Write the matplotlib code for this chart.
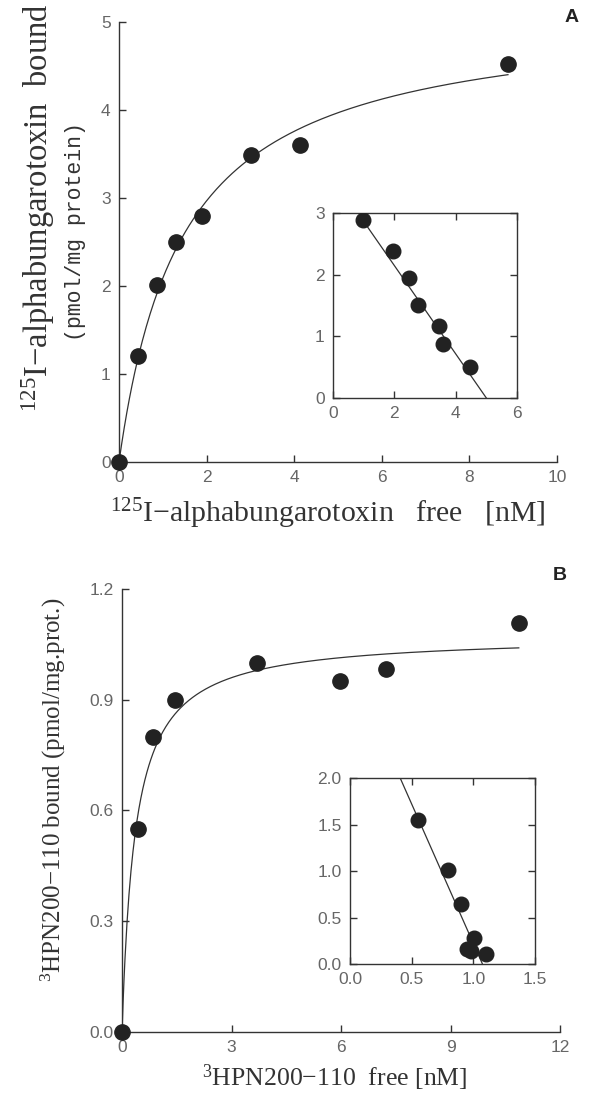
import numpy as np
import matplotlib
matplotlib.use('Agg')
import matplotlib.pyplot as plt

plt.rcParams['font.family'] = ['Liberation Sans', 'DejaVu Sans']
plt.rcParams['mathtext.fontset'] = 'custom'
plt.rcParams['mathtext.rm'] = 'Liberation Serif'
plt.rcParams['mathtext.it'] = 'Liberation Serif'

# panel A - alphabungarotoxin saturation
a_free = [0, 0.44, 0.87, 1.31, 1.89, 3.02, 4.14, 8.88]
a_bound = [0, 1.20, 2.01, 2.50, 2.80, 3.49, 3.60, 4.52]
a_bmax, a_kd = 5.12, 1.45          # fitted hyperbola
a_curve_end = 8.88

# panel A inset - scatchard
a_sc_bound = [0.97, 1.95, 2.48, 2.77, 3.46, 3.58, 4.46]
a_sc_ratio = [2.89, 2.38, 1.94, 1.51, 1.16, 0.88, 0.51]
a_sc_line_x = [0.95, 5.0]
a_sc_line_y = [2.90, 0.0]

# panel B - HPN200-110 saturation
b_free = [0, 0.43, 0.85, 1.46, 3.71, 5.97, 7.24, 10.87]
b_bound = [0, 0.549, 0.798, 0.899, 1.0, 0.951, 0.982, 1.107]
b_bmax, b_kd = 1.075, 0.36
b_curve_end = 10.87

# panel B inset - scatchard
b_sc_bound = [0.551, 0.796, 0.90, 1.004, 0.949, 0.983, 1.102]
b_sc_ratio = [1.547, 1.006, 0.648, 0.282, 0.16, 0.141, 0.11]
b_sc_line_x = [0.407, 1.074]
b_sc_line_y = [2.0, 0.0]

a_xticks = [0, 2, 4, 6, 8, 10]
a_yticks = [0, 1, 2, 3, 4, 5]
a_in_xticks = [0, 2, 4, 6]
a_in_yticks = [0, 1, 2, 3]
b_xticks = [0, 3, 6, 9, 12]
b_yticks = [0.0, 0.3, 0.6, 0.9, 1.2]
b_in_xticks = [0.0, 0.5, 1.0, 1.5]
b_in_yticks = [0.0, 0.5, 1.0, 1.5, 2.0]

dot = '#222222'
tickc = '#666666'
serif = ['Liberation Serif', 'DejaVu Serif']
mono = ['Liberation Mono', 'DejaVu Sans Mono']

fig = plt.figure(figsize=(5.9, 10.94), dpi=100)


def style_main(ax):
    for s in ['top', 'right']:
        ax.spines[s].set_visible(False)
    for s in ['left', 'bottom']:
        ax.spines[s].set_linewidth(1.0)
        ax.spines[s].set_color('#333333')
    ax.tick_params(direction='in', length=5, width=1.0, color='#333333',
                   labelsize=12.5, labelcolor=tickc, pad=6)


def style_inset(ax):
    for s in ax.spines.values():
        s.set_linewidth(1.0)
        s.set_color('#333333')
    ax.tick_params(direction='in', length=5, width=1.0, color='#333333',
                   labelsize=12.5, labelcolor=tickc, top=True, right=True,
                   pad=6)


# ---- panel A ----
axA = fig.add_axes([0.2017, 0.5777, 0.7424, 0.4022])
xs = np.linspace(0, a_curve_end, 300)
axA.plot(xs, a_bmax * xs / (a_kd + xs), color='#333333', lw=0.9)
axA.plot(a_free, a_bound, 'o', color=dot, ms=11, clip_on=False, zorder=5)
axA.set_xlim(0, 10)
axA.set_ylim(0, 5)
axA.set_xticks(a_xticks)
axA.set_yticks(a_yticks)
style_main(axA)

insA = fig.add_axes([0.5644, 0.6362, 0.3119, 0.1691])
insA.plot(a_sc_line_x, a_sc_line_y, color='#333333', lw=0.9)
insA.plot(a_sc_bound, a_sc_ratio, 'o', color=dot, ms=10.5, zorder=5)
insA.set_xlim(0, 6)
insA.set_ylim(0, 3)
insA.set_xticks(a_in_xticks)
insA.set_yticks(a_in_yticks)
style_inset(insA)

fig.text(38 / 590, 1 - 208 / 1094, r'$^{125}$I$-$alphabungarotoxin  bound',
         rotation=90, ha='center', va='center', fontsize=23.5, family=serif,
         color='#333333')
fig.text(76 / 590, 1 - 232 / 1094, '(pmol/mg protein)', rotation=90,
         ha='center', va='center', fontsize=15.5, family=mono,
         color='#333333')
fig.text(328 / 590, 1 - 514 / 1094,
         r'$^{125}$I$-$alphabungarotoxin   free   [nM]',
         ha='center', va='center', fontsize=21.5, family=serif,
         color='#333333')
fig.text(572 / 590, 1 - 18 / 1094, 'A', ha='center', va='center',
         fontsize=14, fontweight='bold', color='#222222')

# ---- panel B ----
axB = fig.add_axes([0.2068, 0.0567, 0.7424, 0.4049])
xs = np.linspace(0, b_curve_end, 400)
axB.plot(xs, b_bmax * xs / (b_kd + xs), color='#333333', lw=0.9)
axB.plot(b_free, b_bound, 'o', color=dot, ms=11, clip_on=False, zorder=5)
axB.set_xlim(0, 12)
axB.set_ylim(0, 1.2)
axB.set_xticks(b_xticks)
axB.set_yticks(b_yticks)
axB.set_yticklabels(['%.1f' % v for v in b_yticks])
style_main(axB)

insB = fig.add_axes([0.5932, 0.1188, 0.3136, 0.170])
insB.plot(b_sc_line_x, b_sc_line_y, color='#333333', lw=0.9)
insB.plot(b_sc_bound, b_sc_ratio, 'o', color=dot, ms=10.5, zorder=5)
insB.set_xlim(0, 1.5)
insB.set_ylim(0, 2.0)
insB.set_xticks(b_in_xticks)
insB.set_yticks(b_in_yticks)
insB.set_xticklabels(['%.1f' % v for v in b_in_xticks])
insB.set_yticklabels(['%.1f' % v for v in b_in_yticks])
style_inset(insB)

fig.text(53 / 590, 1 - 790 / 1094, r'$^{3}$HPN200$-$110 bound (pmol/mg.prot.)',
         rotation=90, ha='center', va='center', fontsize=18, family=serif,
         color='#333333')
fig.text(335 / 590, 1 - 1078 / 1094, r'$^{3}$HPN200$-$110  free [nM]',
         ha='center', va='center', fontsize=18.5, family=serif,
         color='#333333')
fig.text(560 / 590, 1 - 575 / 1094, 'B', ha='center', va='center',
         fontsize=14, fontweight='bold', color='#222222')

fig.savefig('out.png', dpi=100)
